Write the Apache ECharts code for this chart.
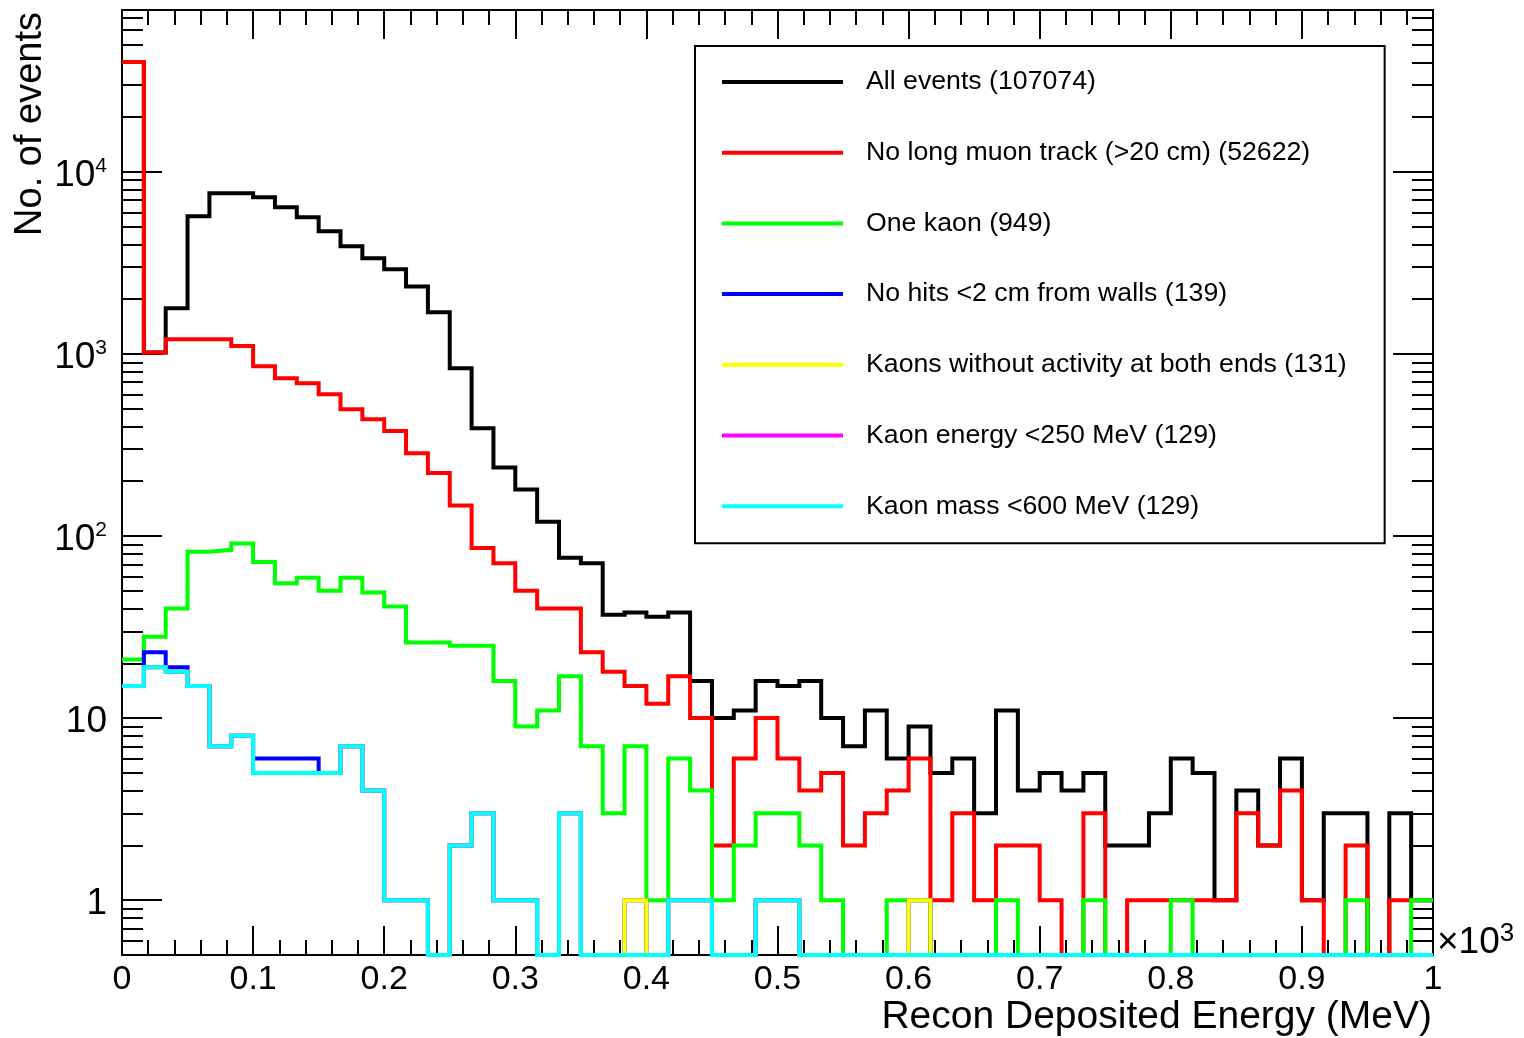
<!DOCTYPE html>
<html>
<head>
<meta charset="utf-8">
<title>Recon Deposited Energy</title>
<script src="https://cdn.jsdelivr.net/npm/echarts@6/dist/echarts.min.js"></script>
<style>
html, body { margin: 0; padding: 0; background: #fff; }
#chart { width: 1524px; height: 1038px; }
</style>
</head>
<body>
<div id="chart"></div>
<script>
// 60 bins from 0 to 1000 MeV (axis shown in units of 10^3)
var xMin = 0, xMax = 1000, nBins = 60;
var yLow = 0.5, yHigh = 77500;

var seriesNames = [
	'All events (107074)',
	'No long muon track (>20 cm) (52622)',
	'One kaon (949)',
	'No hits <2 cm from walls (139)',
	'Kaons without activity at both ends (131)',
	'Kaon energy <250 MeV (129)',
	'Kaon mass <600 MeV (129)'
];

var allEvents = [40200, 1020, 1782, 5710, 7640, 7640, 7260, 6400, 5640, 4720,
	3910, 3360, 2920, 2350, 1695, 834, 391, 238, 180, 120,
	76, 71, 37, 38, 36, 38, 16, 10, 11, 16,
	15, 16, 10, 7, 11, 6, 9, 5, 6, 3,
	11, 4, 5, 4, 5, 2, 2, 3, 6, 5,
	1, 4, 2, 6, 1, 3, 3, 0, 3, 1];

var noLongMuon = [40200, 1020, 1205, 1205, 1205, 1105, 857, 736, 691, 601,
	497, 438, 377, 285, 222, 147, 86, 71, 50, 40,
	40, 23, 18, 15, 12, 17, 10, 2, 6, 10,
	6, 4, 5, 2, 3, 4, 6, 1, 3, 1,
	2, 2, 1, 0, 3, 0, 1, 1, 1, 1,
	1, 3, 2, 4, 1, 0, 2, 0, 1, 1];

var oneKaon = [21, 28, 40, 82, 84, 91, 72, 55, 59, 50,
	59, 49, 41, 26, 26, 25, 25, 16, 9, 11,
	17, 7, 3, 7, 1, 6, 4, 1, 2, 3,
	3, 2, 1, 0, 0, 1, 1, 0, 0, 0,
	1, 0, 0, 0, 1, 0, 0, 0, 1, 0,
	0, 0, 0, 0, 0, 0, 1, 0, 0, 1];

var noWallHits = [15, 23, 19, 15, 7, 8, 6, 6, 6, 5,
	7, 4, 1, 1, 0, 2, 3, 1, 1, 0,
	3, 0, 0, 1, 0, 1, 1, 0, 0, 1,
	1, 0, 0, 0, 0, 0, 1, 0, 0, 0,
	0, 0, 0, 0, 0, 0, 0, 0, 0, 0,
	0, 0, 0, 0, 0, 0, 0, 0, 0, 0];

var noEndActivity = [15, 19, 18, 15, 7, 8, 5, 5, 5, 5,
	7, 4, 1, 1, 0, 2, 3, 1, 1, 0,
	3, 0, 0, 1, 0, 1, 1, 0, 0, 1,
	1, 0, 0, 0, 0, 0, 1, 0, 0, 0,
	0, 0, 0, 0, 0, 0, 0, 0, 0, 0,
	0, 0, 0, 0, 0, 0, 0, 0, 0, 0];

var kaonEnergy = [15, 19, 18, 15, 7, 8, 5, 5, 5, 5,
	7, 4, 1, 1, 0, 2, 3, 1, 1, 0,
	3, 0, 0, 0, 0, 1, 1, 0, 0, 1,
	1, 0, 0, 0, 0, 0, 0, 0, 0, 0,
	0, 0, 0, 0, 0, 0, 0, 0, 0, 0,
	0, 0, 0, 0, 0, 0, 0, 0, 0, 0];

var kaonMass = [15, 19, 18, 15, 7, 8, 5, 5, 5, 5,
	7, 4, 1, 1, 0, 2, 3, 1, 1, 0,
	3, 0, 0, 0, 0, 1, 1, 0, 0, 1,
	1, 0, 0, 0, 0, 0, 0, 0, 0, 0,
	0, 0, 0, 0, 0, 0, 0, 0, 0, 0,
	0, 0, 0, 0, 0, 0, 0, 0, 0, 0];

var yDecades = [1, 10, 100, 1000, 10000];
var xTickStep = 100;

window.onload = function () {
	var chart = echarts.init(document.getElementById('chart'));

	var fontName = '"Liberation Sans", Arial, Helvetica, sans-serif';
	var logLow = Math.log10(yLow);
	var logHigh = Math.log10(yHigh);
	var binWidth = (xMax - xMin) / nBins;

	// log10 of counts, empty bins sit on the lower edge like ROOT does
	function histPoints(counts) {
		var pts = counts.map(function (c, i) {
			return [xMin + i * binWidth, c > 0 ? Math.log10(c) : logLow];
		});
		pts.push([xMax, pts[pts.length - 1][1]]);
		return pts;
	}

	var majorTicks = yDecades.map(function (d) { return Math.log10(d); });
	var minorTicks = [];
	for (var e = -1; e <= 4; e++) {
		for (var k = 2; k <= 9; k++) {
			var lv = Math.log10(k * Math.pow(10, e));
			if (lv > logLow && lv < logHigh) minorTicks.push(lv);
		}
	}

	var colors = ['#000000', '#ff0000', '#00ff00', '#0000ff', '#ffff00', '#ff00ff', '#00ffff'];
	var counts = [allEvents, noLongMuon, oneKaon, noWallHits, noEndActivity, kaonEnergy, kaonMass];

	var series = counts.map(function (c, i) {
		return {
			name: seriesNames[i],
			type: 'line',
			step: 'end',
			data: histPoints(c),
			showSymbol: false,
			clip: false,
			silent: true,
			color: colors[i],
			lineStyle: { color: colors[i], width: 4, join: 'miter', cap: 'butt' },
			z: 2 + i
		};
	});

	function yAxisDef(pos, ticks, len, withLabels, withLine) {
		return {
			type: 'value',
			position: pos,
			min: logLow,
			max: logHigh,
			axisLine: { show: withLine, onZero: false, lineStyle: { color: '#000', width: 2 } },
			axisTick: { show: true, inside: true, length: len, customValues: ticks,
				lineStyle: { color: '#000', width: 2 } },
			axisLabel: withLabels ? {
				show: true,
				customValues: majorTicks,
				margin: 15,
				color: '#000',
				fontFamily: fontName,
				fontSize: 37,
				lineHeight: 40,
				padding: [8, 0, 0, 0],
				formatter: function (v) {
					var ex = Math.round(v);
					if (ex === 0) return '1';
					if (ex === 1) return '10';
					return '10{sup|' + ex + '}';
				},
				rich: { sup: { fontSize: 21, lineHeight: 20, verticalAlign: 'top', fontFamily: fontName, color: '#000' } }
			} : { show: false },
			splitLine: { show: false }
		};
	}

	function xAxisDef(pos, withLabels) {
		return {
			type: 'value',
			position: pos,
			min: xMin,
			max: xMax,
			interval: xTickStep,
			axisLine: { show: true, onZero: false, lineStyle: { color: '#000', width: 2 } },
			axisTick: { show: true, inside: true, length: 29, lineStyle: { color: '#000', width: 2 } },
			minorTick: { show: true, splitNumber: 5, length: 15, lineStyle: { color: '#000', width: 2 } },
			axisLabel: withLabels ? {
				show: true,
				margin: 8,
				color: '#000',
				fontFamily: fontName,
				fontSize: 34,
				formatter: function (v) { return String(v / 1000); }
			} : { show: false },
			splitLine: { show: false },
			minorSplitLine: { show: false }
		};
	}

	var option = {
		animation: false,
		backgroundColor: '#fff',
		grid: { left: 122, right: 91, top: 10, bottom: 83 },
		xAxis: [xAxisDef('bottom', true), xAxisDef('top', false)],
		yAxis: [
			yAxisDef('left', majorTicks, 40, true, true),
			yAxisDef('left', minorTicks, 21, false, false),
			yAxisDef('right', majorTicks, 40, false, true),
			yAxisDef('right', minorTicks, 21, false, false)
		],
		legend: {
			orient: 'vertical',
			left: 695,
			top: 46,
			padding: [21, 38, 22, 27],
			itemWidth: 121,
			itemHeight: 4,
			itemGap: 40.7,
			icon: 'rect',
			selectedMode: false,
			backgroundColor: '#fff',
			borderColor: '#000',
			borderWidth: 2,
			data: seriesNames,
			textStyle: {
				color: '#000',
				fontFamily: fontName,
				fontSize: 26.7,
				lineHeight: 30,
				padding: [0, 0, 0, 18]
			}
		},
		graphic: [
			{
				type: 'text',
				x: 31,
				y: 12,
				rotation: Math.PI / 2,
				style: {
					text: 'No. of events',
					align: 'right',
					verticalAlign: 'middle',
					fontFamily: fontName,
					fontSize: 38,
					fill: '#000'
				}
			},
			{
				type: 'text',
				x: 1432,
				y: 1017,
				style: {
					text: 'Recon Deposited Energy (MeV)',
					align: 'right',
					verticalAlign: 'middle',
					fontFamily: fontName,
					fontSize: 39,
					fill: '#000'
				}
			},
			{
				type: 'text',
				x: 1437,
				y: 965,
				style: {
					text: '\u00d710{sup|3}',
					align: 'left',
					verticalAlign: 'bottom',
					fontFamily: fontName,
					fontSize: 37,
					lineHeight: 44,
					fill: '#000',
					rich: { sup: { fontSize: 26, lineHeight: 24, verticalAlign: 'top', fontFamily: fontName, fill: '#000' } }
				}
			}
		],
		series: series
	};

	chart.setOption(option);
};
</script>
</body>
</html>
